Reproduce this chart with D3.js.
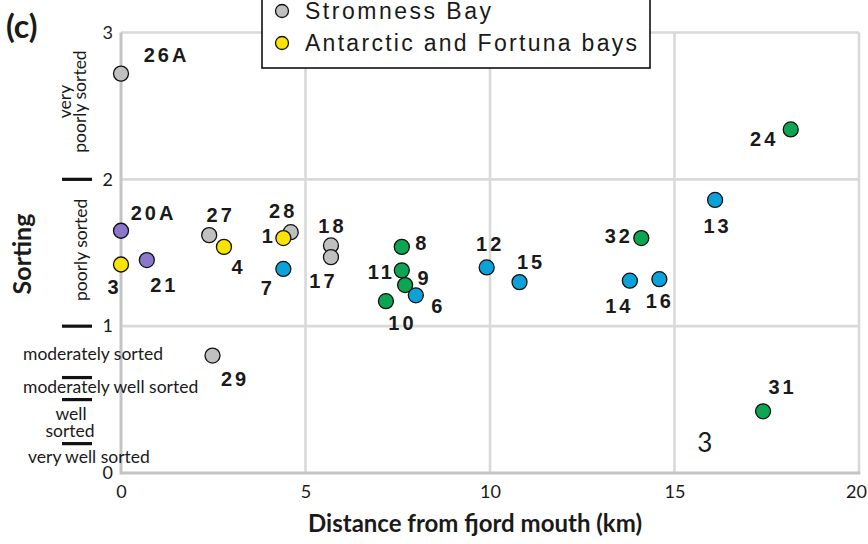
<!DOCTYPE html>
<html>
<head>
<meta charset="utf-8">
<script src="https://cdn.jsdelivr.net/npm/d3@7"></script>
<style>
  html, body { margin: 0; padding: 0; background: #fff; }
  svg { display: block; }
</style>
</head>
<body>
<svg id="chart" width="868" height="544"></svg>
<script>
// ---------------- data ----------------
const sampleIds  = ["26A","20A","3","21","27","4","28","1","7","29","18","17","8","11","9","6","10","12","15","32","14","16","13","24","31"];
const distanceKm = [0, 0, 0, 0.70, 2.39, 2.79, 4.60, 4.40, 4.40, 2.48, 5.69, 5.69, 7.61, 7.61, 7.70, 7.99, 7.18, 9.91, 10.80, 14.10, 13.79, 14.59, 16.10, 18.15, 17.40];
const sortingVal = [2.72, 1.65, 1.42, 1.45, 1.62, 1.54, 1.64, 1.60, 1.39, 0.80, 1.55, 1.47, 1.54, 1.38, 1.28, 1.21, 1.17, 1.40, 1.30, 1.60, 1.31, 1.32, 1.86, 2.34, 0.42];
const sampleGroup = ["SB","P","AF","P","SB","AF","SB","AF","B","SB","SB","SB","G","G","G","B","G","B","B","G","B","B","B","G","G"];

const groupKeys   = ["SB","AF","P","B","G"];
const legendNames = ["Stromness Bay","Antarctic and Fortuna bays"];
const legendKeys  = ["SB","AF"];

const xTicks = [0, 5, 10, 15, 20];
const yTicks = [0, 1, 2, 3];
const classBreaks = [2, 1, 0.65, 0.5, 0.2];

// ---------------- layout ----------------
const labelDx = [44, 31, -8, 16, 10, 13, -9, -16, -17, 21, 0, -9, 19, -22, 18, 21, 15, 2, 10, -24, -12, -1, 1, -28, 18];
const labelDy = [-19, -18, 22, 25, -20, 20, -21, -2, 19, 23, -20, 24, -4, 1, -7, 10, 22, -24, -20, -2, 25, 22, 26, 9, -25];

const svg = d3.select("#chart");
const x = d3.scaleLinear().domain([0, 20]).range([121, 859]);
const y = d3.scaleLinear().domain([0, 3]).range([473, 32.5]);

const color = d3.scaleOrdinal().domain(groupKeys)
  .range(["#c0c0c0", "#fde400", "#8b78cc", "#0aa2d8", "#0ca552"]);

const calib = "Lato, 'Open Sans', sans-serif";
const arial = "'Liberation Sans', Arial, sans-serif";
const ink = "#1a1a1a";

// grid lines
const grid = svg.append("g");
grid.selectAll("line.v").data(xTicks.filter(d => d > 0)).join("line")
  .attr("x1", d => x(d)).attr("x2", d => x(d))
  .attr("y1", y(3)).attr("y2", y(0))
  .attr("stroke", "#d9d9d9").attr("stroke-width", 2.6);
grid.selectAll("line.h").data(yTicks.filter(d => d > 0)).join("line")
  .attr("x1", x(0)).attr("x2", x(20))
  .attr("y1", d => y(d)).attr("y2", d => y(d))
  .attr("stroke", "#d9d9d9").attr("stroke-width", 2.6);
// axis borders
grid.append("line").attr("x1", x(0)).attr("x2", x(0)).attr("y1", y(3)).attr("y2", y(0) + 1.5)
  .attr("stroke", "#c4c4c4").attr("stroke-width", 3);
grid.append("line").attr("x1", x(0)).attr("x2", x(20) + 1.3).attr("y1", y(0)).attr("y2", y(0))
  .attr("stroke", "#c4c4c4").attr("stroke-width", 3);

// axes (labels only)
const xAxis = svg.append("g").attr("transform", `translate(0,${y(0)})`)
  .call(d3.axisBottom(x).tickValues(xTicks).tickSize(0).tickPadding(12).tickFormat(d3.format("d")));
xAxis.select(".domain").remove();
xAxis.selectAll("text").attr("font-family", calib).attr("font-size", 18).attr("fill", ink)
  .attr("dx", d => d === 20 ? -3 : 0);

const yAxis = svg.append("g").attr("transform", `translate(${x(0) - 8},0)`)
  .call(d3.axisLeft(y).tickValues(yTicks).tickSize(0).tickPadding(0).tickFormat(d3.format("d")));
yAxis.select(".domain").remove();
yAxis.selectAll("text").attr("font-family", calib).attr("font-size", 18).attr("fill", ink);

// sorting class breaks
svg.selectAll("line.brk").data(classBreaks).join("line")
  .attr("x1", 62).attr("x2", 92)
  .attr("y1", d => y(d)).attr("y2", d => y(d))
  .attr("stroke", "#111").attr("stroke-width", 3.2);

// sorting class labels
const vtext = (lines, cx, v) => {
  const t = svg.append("text")
    .attr("transform", `translate(${cx},${y(v)}) rotate(-90)`)
    .attr("text-anchor", "middle").attr("font-family", calib).attr("font-size", 17.5).attr("fill", ink);
  lines.forEach((l, i) => t.append("tspan").attr("x", 0).attr("dy", i === 0 ? 0 : 15).text(l));
};
vtext(["very", "poorly sorted"], 71, 2.53);
vtext(["poorly sorted"], 87, 1.52);

const htext = (s, cx, v, anchor) => svg.append("text")
  .attr("x", cx).attr("y", y(v)).attr("dy", "0.35em")
  .attr("text-anchor", anchor).attr("font-family", calib).attr("font-size", 17.5).attr("fill", ink).text(s);
htext("moderately sorted", 23, 0.81, "start");
htext("moderately well sorted", 23, 0.585, "start");
htext("well", 71, 0.40, "middle");
htext("sorted", 70, 0.29, "middle");
htext("very well sorted", 28, 0.11, "start");

// axis titles
svg.append("text").attr("x", 475).attr("y", 532).attr("text-anchor", "middle")
  .attr("font-family", calib).attr("font-weight", 700).attr("font-size", 24).attr("fill", ink)
  .text("Distance from fjord mouth (km)");
svg.append("text").attr("transform", `translate(31,254) rotate(-90)`).attr("text-anchor", "middle")
  .attr("font-family", calib).attr("font-weight", 700).attr("font-size", 25).attr("fill", ink)
  .text("Sorting");
svg.append("text").attr("x", 6).attr("y", 38)
  .attr("font-family", calib).attr("font-weight", 700).attr("font-size", 32).attr("fill", ink)
  .text("(c)");

// stray label in the plot
svg.append("text").attr("x", x(15.82)).attr("y", y(0.14)).attr("text-anchor", "middle")
  .attr("font-family", calib).attr("font-size", 26).attr("fill", ink).text("3");

// points
const idx = d3.range(sampleIds.length);
svg.append("g").selectAll("circle").data(idx).join("circle")
  .attr("cx", i => x(distanceKm[i])).attr("cy", i => y(sortingVal[i]))
  .attr("r", 7.5)
  .attr("fill", i => color(sampleGroup[i]))
  .attr("stroke", "#111").attr("stroke-width", 1.3);

// point labels
svg.append("g").selectAll("text").data(idx).join("text")
  .attr("x", i => x(distanceKm[i]) + labelDx[i] + 1.5)
  .attr("y", i => y(sortingVal[i]) + labelDy[i])
  .attr("dy", "0.36em")
  .attr("text-anchor", "middle")
  .attr("font-family", arial).attr("font-weight", 700).attr("font-size", 20)
  .attr("letter-spacing", 3).attr("fill", ink)
  .text(i => sampleIds[i]);

// legend
const lg = svg.append("g");
lg.append("rect").attr("x", 262).attr("y", -40).attr("width", 388).attr("height", 108)
  .attr("fill", "#fff").attr("stroke", "#111").attr("stroke-width", 1.6);
const legendY = [11, 43];
const legendLen = [186, 332];
lg.selectAll("circle").data(legendKeys).join("circle")
  .attr("cx", 282).attr("cy", (d, i) => legendY[i]).attr("r", 6.5)
  .attr("fill", d => color(d)).attr("stroke", "#111").attr("stroke-width", 1.3);
lg.selectAll("text").data(legendNames).join("text")
  .attr("x", 305).attr("y", (d, i) => legendY[i] + 7.5)
  .attr("font-family", arial).attr("font-size", 23).attr("fill", ink)
  .attr("textLength", (d, i) => legendLen[i]).attr("lengthAdjust", "spacing")
  .text(d => d);
</script>
</body>
</html>
